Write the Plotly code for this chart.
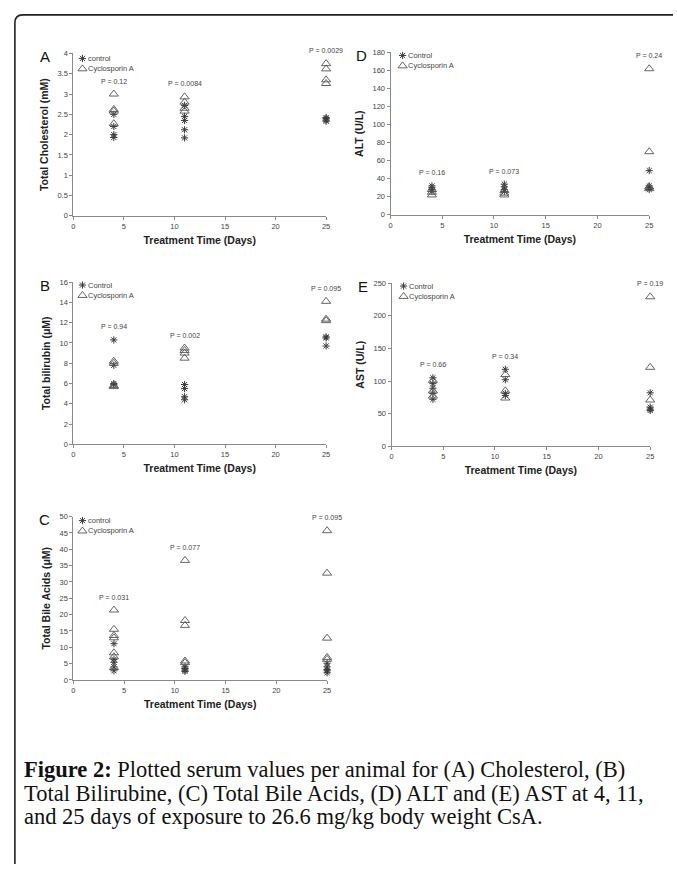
import plotly.graph_objects as go

W, H = 677, 869

DAYS = [4, 11, 25]

# Panel A - Total Cholesterol (mM)
chol_control = [[2.5, 2.2, 2.0, 1.93], [2.72, 2.45, 2.35, 2.12, 1.92], [2.42, 2.4, 2.36, 2.33]]
chol_csa = [[3.0, 2.62, 2.58, 2.27], [2.93, 2.8, 2.65, 2.58], [3.75, 3.62, 3.35, 3.26]]
chol_p = ["P = 0.12", "P = 0.0084", "P = 0.0029"]

# Panel B - Total bilirubin (uM)
bili_control = [[10.3, 7.8, 6.0, 5.9], [5.9, 5.5, 4.7, 4.4], [10.6, 10.5, 9.7]]
bili_csa = [[8.2, 8.0, 5.8, 5.7], [9.5, 9.25, 9.0, 8.5], [14.1, 12.35, 12.2]]
bili_p = ["P = 0.94", "P = 0.002", "P = 0.095"]

# Panel C - Total Bile Acids (uM)
ba_control = [[11.1, 6.3, 5.4, 4.0, 2.8], [4.0, 3.5, 3.0, 2.6], [5.1, 4.0, 3.2, 2.8, 2.2]]
ba_csa = [[21.4, 15.5, 13.6, 12.9, 8.3, 7.1, 3.8], [36.6, 18.2, 16.7, 5.8, 5.3], [45.7, 32.7, 12.8, 6.9, 6.3]]
ba_p = ["P = 0.031", "P = 0.077", "P = 0.095"]

# Panel D - ALT (U/L)
alt_control = [[32, 30, 28, 26], [34, 31, 28, 26], [49, 32, 30, 28]]
alt_csa = [[28, 25, 22], [27, 24, 22], [162, 70, 31, 29]]
alt_p = ["P = 0.16", "P = 0.073", "P = 0.24"]

# Panel E - AST (U/L)
ast_control = [[105, 96, 89, 81, 72], [118, 102, 81, 78], [82, 60, 57, 55]]
ast_csa = [[101, 85, 77], [110, 85, 74], [229, 121, 71]]
ast_p = ["P = 0.66", "P = 0.34", "P = 0.19"]

X_TICKS = [0, 5, 10, 15, 20, 25]

panels = [
    dict(letter="A", ctrl=chol_control, csa=chol_csa, p=chol_p, ytitle="Total Cholesterol (mM)",
         yr=[0, 4], dt=0.5, lab="control", box=(72, 327, 50, 214), leg=(82, 55)),
    dict(letter="D", ctrl=alt_control, csa=alt_csa, p=alt_p, ytitle="ALT (U/L)",
         yr=[0, 180], dt=20, lab="Control", box=(392, 653, 49, 213), leg=(405, 52)),
    dict(letter="B", ctrl=bili_control, csa=bili_csa, p=bili_p, ytitle="Total bilirubin (\u03bcM)",
         yr=[0, 16], dt=2, lab="Control", box=(72, 327, 281, 445), leg=(82, 284)),
    dict(letter="E", ctrl=ast_control, csa=ast_csa, p=ast_p, ytitle="AST (U/L)",
         yr=[0, 250], dt=50, lab="Control", box=(393, 654, 282, 447), leg=(406, 285)),
    dict(letter="C", ctrl=ba_control, csa=ba_csa, p=ba_p, ytitle="Total Bile Acids (\u03bcM)",
         yr=[0, 50], dt=5, lab="control", box=(72, 328, 518, 683), leg=(82, 522)),
]

MC = "#3a3a3a"
TC = "#555555"
AX = "#8a8a8a"
TXT = "#444444"
FONT = "Arial, Liberation Sans"

fig = go.Figure()
annotations = []
layout_axes = {}


def px_x(v):
    return v / W


def px_y(v):
    return 1 - v / H


for i, pn in enumerate(panels):
    n = i + 1
    xa = "x" if n == 1 else f"x{n}"
    ya = "y" if n == 1 else f"y{n}"
    lg1 = "legend" if n == 1 else f"legend{2 * n - 1}"
    lg2 = f"legend{2 * n}"
    x0, x1, yt, yb = pn["box"]

    cx, cy = [], []
    for d, vals in zip(DAYS, pn["ctrl"]):
        cx += [d] * len(vals)
        cy += vals
    tx, ty = [], []
    for d, vals in zip(DAYS, pn["csa"]):
        tx += [d] * len(vals)
        ty += vals

    fig.add_trace(go.Scatter(
        x=cx, y=cy, mode="markers", name="", xaxis=xa, yaxis=ya, legend=lg1,
        marker=dict(symbol="asterisk-open", size=6, color=MC, line=dict(color=MC, width=1)),
        cliponaxis=False, showlegend=True, hoverinfo="x+y"))
    fig.add_trace(go.Scatter(
        x=tx, y=ty, mode="markers", name="", xaxis=xa, yaxis=ya, legend=lg2,
        marker=dict(symbol="triangle-up-open", size=8, color=TC, line=dict(color=TC, width=0.9)),
        cliponaxis=False, showlegend=True, hoverinfo="x+y"))

    # p-value labels above the highest point of each day
    for d, pc, vc, vt in zip(DAYS, pn["p"], pn["ctrl"], pn["csa"]):
        top = max(max(vc), max(vt))
        annotations.append(dict(
            x=d, y=top, xref=xa, yref=ya, text=pc, showarrow=False, yshift=13,
            font=dict(family=FONT, size=7, color=TXT)))

    ax_common = dict(showgrid=False, zeroline=False, showline=True, linecolor=AX, linewidth=1,
                     ticks="outside", ticklen=3, tickcolor=AX, tickwidth=1,
                     tickfont=dict(family=FONT, size=7.5, color=TXT))
    layout_axes["xaxis" if n == 1 else f"xaxis{n}"] = dict(
        ax_common, domain=[px_x(x0), px_x(x1)], range=[0, 25], tickvals=X_TICKS,
        anchor=ya,
        title=dict(text="<b>Treatment Time (Days)</b>", standoff=6,
                   font=dict(family=FONT, size=10.5, color="#222222")))
    layout_axes["yaxis" if n == 1 else f"yaxis{n}"] = dict(
        ax_common, domain=[px_y(yb), px_y(yt)], range=pn["yr"], dtick=pn["dt"], tick0=0,
        anchor=xa,
        title=dict(text=f"<b>{pn['ytitle']}</b>", standoff=6,
                   font=dict(family=FONT, size=10.5, color="#222222")))

    # legend: symbol from plotly legend, label as text next to it
    lx, ly = pn["leg"]
    for k, (lg, txt) in enumerate([(lg1, pn["lab"]), (lg2, "Cyclosporin A")]):
        yy = ly + 10.5 * k
        layout_axes[lg] = dict(x=px_x(lx - 21), y=px_y(yy), xanchor="left", yanchor="middle",
                               bgcolor="rgba(0,0,0,0)", borderwidth=0, tracegroupgap=0,
                               font=dict(family=FONT, size=7.5, color=TXT), itemwidth=30)
        annotations.append(dict(x=px_x(lx + 3), y=px_y(yy), xref="paper", yref="paper",
                                text=txt, showarrow=False, xanchor="left", yanchor="middle",
                                font=dict(family=FONT, size=7.5, color=TXT)))

    annotations.append(dict(x=px_x(x0 - 29), y=px_y(yt + 3), xref="paper", yref="paper",
                            text=pn["letter"], showarrow=False, xanchor="center", yanchor="middle",
                            font=dict(family=FONT, size=15, color="#111111")))

cap_lines = [
    "<b>Figure 2:</b> Plotted serum values per animal for (A) Cholesterol, (B)",
    "Total Bilirubine, (C) Total Bile Acids, (D) ALT and (E) AST at 4, 11,",
    "and 25 days of exposure to 26.6 mg/kg body weight CsA.",
]
for k, line in enumerate(cap_lines):
    annotations.append(dict(x=px_x(20), y=px_y(774 + 23.5 * k), xref="paper", yref="paper",
                            text=line, showarrow=False, xanchor="left", yanchor="middle",
                            font=dict(family="Liberation Serif, Times New Roman, serif", size=22.5,
                                      color="#111111")))

bx = lambda v: v / W
by = lambda v: 1 - v / H
border = f"M 1,{by(11)} L {bx(21)},{by(11)} Q {bx(13)},{by(11)} {bx(13)},{by(19)} L {bx(13)},0"

fig.update_layout(
    width=W, height=H, margin=dict(l=0, r=0, t=0, b=0),
    paper_bgcolor="white", plot_bgcolor="white",
    annotations=annotations,
    shapes=[dict(type="path", path=border, xref="paper", yref="paper",
                 line=dict(color="#222222", width=1.6))],
    **layout_axes,
)

fig.write_html("out.html", config={"displayModeBar": False},
               post_script="document.body.style.margin='0';document.body.style.overflow='hidden';")
